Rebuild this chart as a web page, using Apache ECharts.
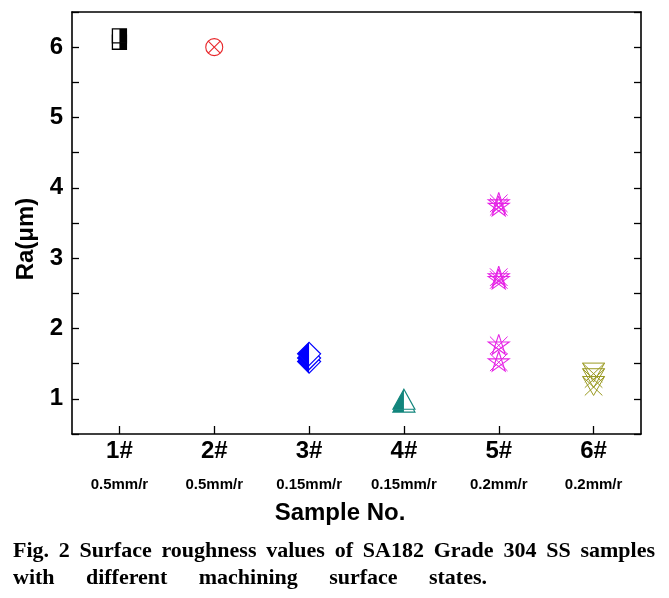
<!DOCTYPE html>
<html><head><meta charset="utf-8">
<script src="https://cdn.jsdelivr.net/npm/echarts@6/dist/echarts.min.js"></script>
<style>html,body{margin:0;padding:0;background:#fff}#c{width:669px;height:598px}</style>
</head><body><div id="c"></div>
<script>
// ---- data ----
const categories = ['1#', '2#', '3#', '4#', '5#', '6#'];
const feedRates = ['0.5mm/r', '0.5mm/r', '0.15mm/r', '0.15mm/r', '0.2mm/r', '0.2mm/r'];
const ra1 = [6.07, 6.16];
const ra2 = [6.0];
const ra3 = [1.53, 1.58, 1.64];
const ra4 = [0.94, 0.98];
const ra5 = [3.73, 3.78, 2.69, 2.73, 1.76, 1.52];
const ra6 = [1.19, 1.30, 1.38];
const yMin = 0.5, yMax = 6.5, yStep = 0.5;
const captionLines = [
  'Fig. 2 Surface roughness values of SA182 Grade 304 SS samples',
  'with different machining surface states.'
];

const SANS = '"Liberation Sans", Arial, sans-serif';
const SERIF = '"Liberation Serif", "Times New Roman", serif';

// ---- marker drawers ----
function squareHalf(cx, cy, c) {
  const s = 7;
  return [
    {type: 'rect', shape: {x: cx - s, y: cy - s, width: 2 * s, height: 2 * s}, style: {fill: '#fff'}},
    {type: 'rect', shape: {x: cx, y: cy - s, width: s, height: 2 * s}, style: {fill: c}},
    {type: 'rect', shape: {x: cx - s, y: cy - s, width: 2 * s, height: 2 * s}, style: {fill: null, stroke: c, lineWidth: 1.3}}
  ];
}
function circleX(cx, cy, c) {
  const r = 8.5, d = r * 0.7071;
  return [
    {type: 'circle', shape: {cx, cy, r}, style: {fill: null, stroke: c, lineWidth: 1.1}},
    {type: 'line', shape: {x1: cx - d, y1: cy - d, x2: cx + d, y2: cy + d}, style: {stroke: c, lineWidth: 1.1}},
    {type: 'line', shape: {x1: cx + d, y1: cy - d, x2: cx - d, y2: cy + d}, style: {stroke: c, lineWidth: 1.1}}
  ];
}
function diamondHalf(cx, cy, c) {
  const h = 11.5;
  return [
    {type: 'polygon', shape: {points: [[cx, cy - h], [cx + h, cy], [cx, cy + h], [cx - h, cy]]}, style: {fill: '#fff'}},
    {type: 'polygon', shape: {points: [[cx, cy - h], [cx, cy + h], [cx - h, cy]]}, style: {fill: c}},
    {type: 'polygon', shape: {points: [[cx, cy - h], [cx + h, cy], [cx, cy + h], [cx - h, cy]]}, style: {fill: null, stroke: c, lineWidth: 1.2}}
  ];
}
function triangleHalf(cx, cy, c) {
  const w = 11, t = 11, b = 9;
  return [
    {type: 'polygon', shape: {points: [[cx, cy - t], [cx + w, cy + b], [cx - w, cy + b]]}, style: {fill: '#fff'}},
    {type: 'polygon', shape: {points: [[cx, cy - t], [cx, cy + b], [cx - w, cy + b]]}, style: {fill: c}},
    {type: 'polygon', shape: {points: [[cx, cy - t], [cx + w, cy + b], [cx - w, cy + b]]}, style: {fill: null, stroke: c, lineWidth: 1.2}}
  ];
}
function pentagram(cx, cy, c) {
  const R = 11, pts = [];
  for (let k = 0; k < 5; k++) {
    const a = (-90 + 72 * k) * Math.PI / 180;
    pts.push([cx + R * Math.cos(a), cy + R * Math.sin(a)]);
  }
  const order = [0, 2, 4, 1, 3, 0].map(i => pts[i]);
  return [
    {type: 'polyline', shape: {points: order}, style: {fill: null, stroke: c, lineWidth: 1.1}},
    {type: 'line', shape: {x1: cx - R * 0.8, y1: cy - R * 0.8, x2: cx + R * 0.8, y2: cy + R * 0.8}, style: {stroke: c, lineWidth: 1}},
    {type: 'line', shape: {x1: cx + R * 0.8, y1: cy - R * 0.8, x2: cx - R * 0.8, y2: cy + R * 0.8}, style: {stroke: c, lineWidth: 1}}
  ];
}
function vCross(cx, cy, c) {
  const w = 11, t = 9, b = 10;
  const st = {stroke: c, lineWidth: 1, fill: null};
  return [
    {type: 'line', shape: {x1: cx - w, y1: cy - t, x2: cx + w, y2: cy - t}, style: st},
    {type: 'polyline', shape: {points: [[cx - w, cy - t], [cx, cy + b], [cx + w, cy - t]]}, style: st},
    {type: 'line', shape: {x1: cx - w, y1: cy - t, x2: cx + w * 0.8, y2: cy + b}, style: st},
    {type: 'line', shape: {x1: cx + w, y1: cy - t, x2: cx - w * 0.8, y2: cy + b}, style: st}
  ];
}

function markerSeries(name, idx, values, color, draw) {
  return {
    type: 'custom', name,
    data: values.map(v => [idx, v]),
    encode: {x: 0, y: 1},
    renderItem: function (params, api) {
      const p = api.coord([api.value(0), api.value(1)]);
      return {type: 'group', children: draw(p[0], p[1], color)};
    },
    z: 5
  };
}

// ---- caption layout (word spacing like the justified print) ----
const measureCtx = document.createElement('canvas').getContext('2d');
function captionWords(text, x0, width, yc, size) {
  const font = 'bold ' + size + 'px ' + SERIF;
  measureCtx.font = font;
  const words = text.split(' ');
  const ws = words.map(w => measureCtx.measureText(w).width);
  const total = ws.reduce((a, b) => a + b, 0);
  const gap = (width - total) / (words.length - 1);
  let x = x0;
  return words.map((w, i) => {
    const el = {type: 'text', x: x, y: yc, silent: true,
      style: {text: w, fontSize: size, fontWeight: 'bold', fontFamily: SERIF, fill: '#000', align: 'left', verticalAlign: 'middle'}};
    x += ws[i] + gap;
    return el;
  });
}

const axisLineStyle = {color: '#000', width: 1.6};
const chart = echarts.init(document.getElementById('c'));
chart.setOption({
  animation: false,
  backgroundColor: '#fff',
  grid: {left: 72, right: 28, top: 12, bottom: 164, containLabel: false},
  xAxis: [{
    type: 'category', data: categories, boundaryGap: true, position: 'bottom',
    axisLine: {show: true, lineStyle: axisLineStyle},
    axisTick: {show: true, inside: true, alignWithLabel: true, length: 8, lineStyle: {color: '#000', width: 1.3}},
    axisLabel: {
      margin: 3, interval: 0,
      formatter: (v, i) => '{a|' + v + '}\n{b|' + feedRates[i] + '}',
      rich: {
        a: {fontSize: 24, fontWeight: 'bold', fontFamily: SANS, color: '#000', lineHeight: 28},
        b: {fontSize: 15, fontWeight: 'bold', fontFamily: SANS, color: '#000', lineHeight: 40}
      }
    },
    splitLine: {show: false},
    name: 'Sample No.', nameLocation: 'middle', nameGap: 67,
    nameTextStyle: {fontSize: 24, fontWeight: 'bold', fontFamily: SANS, color: '#000', padding: [0, 33, 0, 0]}
  }, {
    type: 'category', data: categories, position: 'top',
    axisLine: {show: true, lineStyle: axisLineStyle},
    axisTick: {show: false}, axisLabel: {show: false}, splitLine: {show: false}
  }],
  yAxis: [{
    type: 'value', min: yMin, max: yMax, interval: yStep, position: 'left',
    axisLine: {show: true, lineStyle: axisLineStyle},
    axisTick: {show: true, inside: true, length: 7, lineStyle: {color: '#000', width: 1.3}},
    axisLabel: {
      margin: 9, fontSize: 24, fontWeight: 'bold', fontFamily: SANS, color: '#000',
      formatter: v => (Math.abs(v - Math.round(v)) < 1e-6 && v >= 1 && v <= 6) ? String(Math.round(v)) : ''
    },
    splitLine: {show: false},
    name: 'Ra(μm)', nameLocation: 'middle', nameGap: 33, nameRotate: 90,
    nameTextStyle: {fontSize: 24, fontWeight: 'bold', fontFamily: SANS, color: '#000', padding: [0, 32, 0, 0]}
  }, {
    type: 'value', min: yMin, max: yMax, interval: yStep, position: 'right',
    axisLine: {show: true, lineStyle: axisLineStyle},
    axisTick: {show: true, inside: true, length: 7, lineStyle: {color: '#000', width: 1.3}},
    axisLabel: {show: false}, splitLine: {show: false}
  }],
  series: [
    markerSeries('1#', 0, ra1, '#000000', squareHalf),
    markerSeries('2#', 1, ra2, '#e8262a', circleX),
    markerSeries('3#', 2, ra3, '#0000ff', diamondHalf),
    markerSeries('4#', 3, ra4, '#12857c', triangleHalf),
    markerSeries('5#', 4, ra5, '#e623e6', pentagram),
    markerSeries('6#', 5, ra6, '#9a9a22', vCross)
  ],
  graphic: [].concat(
    captionWords(captionLines[0], 13, 642, 551, 22),
    captionWords(captionLines[1], 13, 474, 578, 22)
  )
});
</script></body></html>
